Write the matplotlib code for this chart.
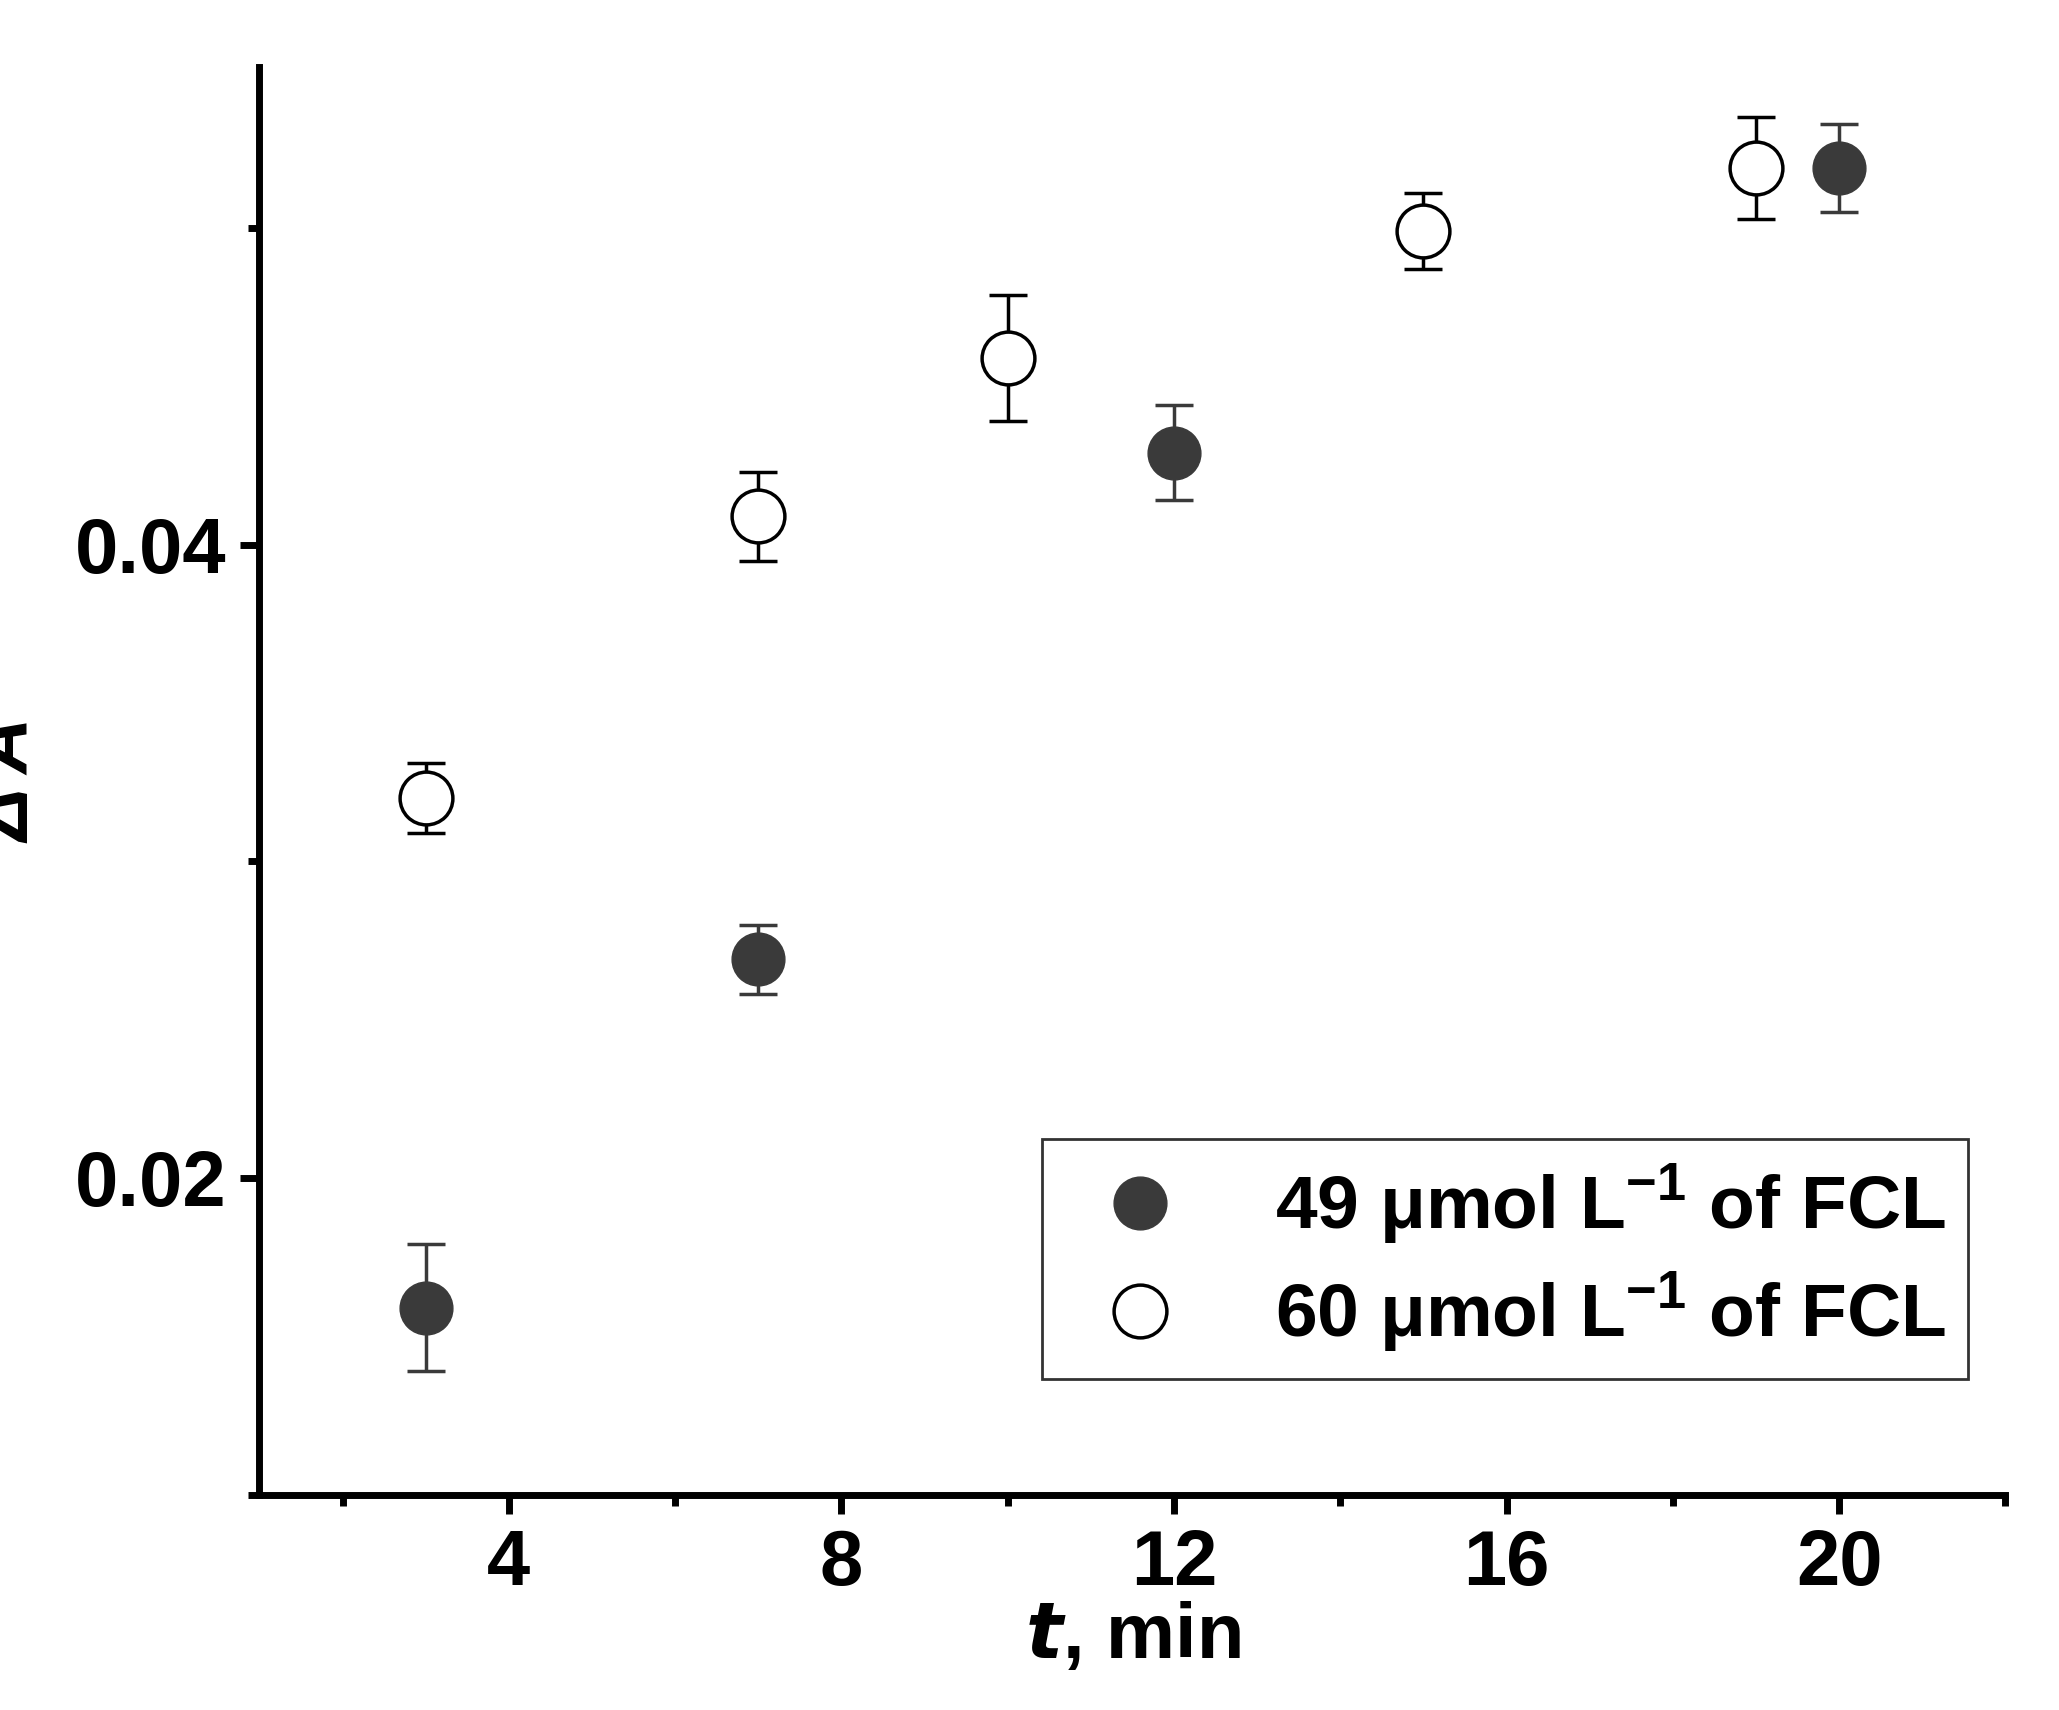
import matplotlib.pyplot as plt
from matplotlib.ticker import MultipleLocator
from matplotlib.lines import Line2D

plt.rcParams['font.family'] = ['Liberation Sans', 'DejaVu Sans']
plt.rcParams['font.weight'] = 'bold'
plt.rcParams['mathtext.fontset'] = 'custom'
plt.rcParams['mathtext.rm'] = 'Liberation Sans:bold'
plt.rcParams['mathtext.bf'] = 'Liberation Sans:bold'

t_49 = [3, 7, 12, 20]
dA_49 = [0.0159, 0.0269, 0.0429, 0.0519]
err_49 = [0.0020, 0.0011, 0.0015, 0.0014]

t_60 = [3, 7, 10, 15, 19]
dA_60 = [0.0320, 0.0409, 0.0459, 0.0499, 0.0519]
err_60 = [0.0011, 0.0014, 0.0020, 0.0012, 0.0016]

labels = ['49 \u03bcmol L$^{\\mathbf{-1}}$ of FCL', '60 \u03bcmol L$^{\\mathbf{-1}}$ of FCL']

fig = plt.figure(figsize=(20.59, 17.10), dpi=100)
ax = fig.add_axes([0.126, 0.126, 0.848, 0.835])

ax.errorbar(t_49, dA_49, yerr=err_49, fmt='o', color='#3a3a3a', ms=38,
            ecolor='#3a3a3a', elinewidth=2.5, capsize=14, capthick=2.5)
ax.errorbar(t_60, dA_60, yerr=err_60, fmt='o', mfc='white', mec='black', mew=2.5,
            ms=38, ecolor='black', elinewidth=2.5, capsize=14, capthick=2.5)

ax.set_xlim(1, 22)
ax.set_ylim(0.010, 0.0551)
ax.xaxis.set_major_locator(MultipleLocator(4))
ax.xaxis.set_minor_locator(MultipleLocator(2))
ax.yaxis.set_minor_locator(MultipleLocator(0.01))
ax.set_yticks([0.02, 0.04])
ax.set_yticklabels(['0.02', '0.04'])

for s in ['top', 'right']:
    ax.spines[s].set_visible(False)
for s in ['left', 'bottom']:
    ax.spines[s].set_linewidth(5)
ax.tick_params(which='major', length=14, width=5, labelsize=56, direction='out', pad=10)
ax.tick_params(which='minor', length=8, width=5, direction='out')

ax.set_xlabel('$\\mathit{t}$, min', fontsize=56, fontweight='bold', labelpad=0)
ax.set_ylabel('\u0394 A', fontsize=56, fontstyle='italic', fontweight='bold', labelpad=20)

handles = [Line2D([], [], ls='none', marker='o', ms=38, color='#3a3a3a'),
           Line2D([], [], ls='none', marker='o', ms=38, mfc='white', mec='black', mew=2.5)]
leg = ax.legend(handles, labels, loc='lower right', bbox_to_anchor=(1.0, 0.055), fontsize=54,
                frameon=True, fancybox=False, edgecolor='black', handletextpad=0.8,
                borderpad=0.3, labelspacing=0.3)
leg.get_frame().set_linewidth(2)

fig.savefig('out.png')
